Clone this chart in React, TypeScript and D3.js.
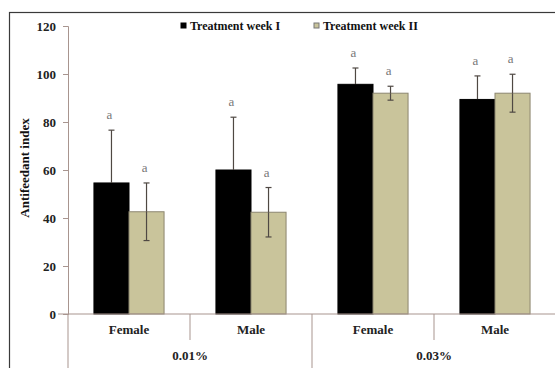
import React, { useEffect, useRef } from 'react';
import * as d3 from 'd3';

// chart data
const concentrations = ['0.01%', '0.03%'];
const sexes = ['Female', 'Male'];
const seriesNames = ['Treatment week I', 'Treatment week II'];
const week1 = [54.6, 60, 95.7, 89.4];
const week1Err = [22, 22, 6.8, 9.8];
const week2 = [42.6, 42.4, 92, 92];
const week2Err = [12, 10.3, 2.9, 7.9];
const week1Letters = ['a', 'a', 'a', 'a'];
const week2Letters = ['a', 'a', 'a', 'a'];
const yTicks = [0, 20, 40, 60, 80, 100, 120];

const seriesColors = ['#000000', '#c9c49b'];
const FONT = '"Liberation Serif", "Times New Roman", serif';

const App: React.FC = () => {
  const svgRef = useRef<SVGSVGElement | null>(null);

  useEffect(() => {
    if (!svgRef.current) return;
    const svg = d3.select(svgRef.current);
    svg.selectAll('*').remove();

    const W = 555;
    const H = 368;
    const left = 68;
    const right = 556;
    const top = 26;
    const bottom = 314;

    svg.append('rect').attr('width', W).attr('height', H).attr('fill', '#fff');

    // outer frame (runs off the right and bottom)
    svg
      .append('rect')
      .attr('x', 9.5)
      .attr('y', 12.5)
      .attr('width', 600)
      .attr('height', 400)
      .attr('fill', 'none')
      .attr('stroke', '#3a3a3a')
      .attr('stroke-width', 1.2);

    // categories
    const cats = concentrations.flatMap((c) => sexes.map((s) => `${c}|${s}`));
    const x0 = d3.scaleBand<string>().domain(cats).range([left, right]).padding(0);
    const xGroup = d3.scaleBand<string>().domain(concentrations).range([left, right]).padding(0);
    const x1 = d3
      .scaleBand<string>()
      .domain(seriesNames)
      .range([0, x0.bandwidth()])
      .paddingInner(0)
      .paddingOuter(0.74);
    const y = d3.scaleLinear().domain([0, 120]).range([bottom, top]);

    const axisColor = '#a8958f';

    // y axis
    const yAxis = svg.append('g').attr('transform', `translate(${left},0)`);
    yAxis.call(d3.axisLeft(y).tickValues(yTicks).tickSize(5).tickPadding(7));
    yAxis.select('.domain').attr('stroke', axisColor);
    yAxis.selectAll('.tick line').attr('stroke', axisColor);
    yAxis
      .selectAll('.tick text')
      .attr('font-family', FONT)
      .attr('font-size', 13)
      .attr('font-weight', 'bold')
      .attr('fill', '#222');

    // y title
    svg
      .append('text')
      .attr('transform', `translate(29,${(top + bottom) / 2 - 2}) rotate(-90)`)
      .attr('text-anchor', 'middle')
      .attr('font-family', FONT)
      .attr('font-size', 13)
      .attr('font-weight', 'bold')
      .attr('fill', '#111')
      .text('Antifeedant index');

    // bars
    const series = [
      { name: seriesNames[0], values: week1, errs: week1Err, letters: week1Letters },
      { name: seriesNames[1], values: week2, errs: week2Err, letters: week2Letters },
    ];

    series.forEach((s, si) => {
      const g = svg.append('g');
      cats.forEach((c, i) => {
        const bx = (x0(c) as number) + (x1(s.name) as number);
        const bw = x1.bandwidth();
        g.append('rect')
          .attr('x', bx)
          .attr('y', y(s.values[i]))
          .attr('width', bw)
          .attr('height', y(0) - y(s.values[i]))
          .attr('fill', seriesColors[si])
          .attr('stroke', si === 0 ? '#000' : '#8c8670')
          .attr('stroke-width', 1);
      });
    });

    // error bars and letters
    const errColor = '#4f4843';
    const innerErrColors = ['#000000', errColor];
    series.forEach((s, si) => {
      const g = svg.append('g');
      cats.forEach((c, i) => {
        const cx = (x0(c) as number) + (x1(s.name) as number) + x1.bandwidth() / 2;
        const mid = y(s.values[i]);
        const hi = y(s.values[i] + s.errs[i]);
        const lo = y(s.values[i] - s.errs[i]);
        g.append('line')
          .attr('x1', cx)
          .attr('x2', cx)
          .attr('y1', hi)
          .attr('y2', mid)
          .attr('stroke', errColor)
          .attr('stroke-width', 1.2);
        g.append('line')
          .attr('x1', cx)
          .attr('x2', cx)
          .attr('y1', mid)
          .attr('y2', lo)
          .attr('stroke', innerErrColors[si])
          .attr('stroke-width', 1.2);
        [
          [hi, errColor],
          [lo, innerErrColors[si]],
        ].forEach(([yy, col]) =>
          g
            .append('line')
            .attr('x1', cx - 3)
            .attr('x2', cx + 3)
            .attr('y1', yy as number)
            .attr('y2', yy as number)
            .attr('stroke', col as string)
            .attr('stroke-width', 1.2)
        );
        g.append('text')
          .attr('x', cx - 2)
          .attr('y', hi - 11)
          .attr('text-anchor', 'middle')
          .attr('font-family', FONT)
          .attr('font-size', 13)
          .attr('fill', '#777')
          .text(s.letters[i]);
      });
    });

    // x axis line
    svg
      .append('line')
      .attr('x1', 58)
      .attr('x2', right)
      .attr('y1', bottom)
      .attr('y2', bottom)
      .attr('stroke', axisColor);

    // category separators and labels
    cats.forEach((c) => {
      const xs = x0(c) as number;
      const isGroupStart = xs === xGroup(c.split('|')[0]);
      svg
        .append('line')
        .attr('x1', xs)
        .attr('x2', xs)
        .attr('y1', bottom)
        .attr('y2', isGroupStart ? H : 340)
        .attr('stroke', axisColor);
      svg
        .append('text')
        .attr('x', xs + x0.bandwidth() / 2)
        .attr('y', 334)
        .attr('text-anchor', 'middle')
        .attr('font-family', FONT)
        .attr('font-size', 13)
        .attr('font-weight', 'bold')
        .attr('fill', '#222')
        .text(c.split('|')[1]);
    });

    concentrations.forEach((c) => {
      svg
        .append('text')
        .attr('x', (xGroup(c) as number) + xGroup.bandwidth() / 2)
        .attr('y', 360)
        .attr('text-anchor', 'middle')
        .attr('font-family', FONT)
        .attr('font-size', 13)
        .attr('font-weight', 'bold')
        .attr('fill', '#222')
        .text(c);
    });

    // legend
    const legendX = [181, 314];
    seriesNames.forEach((name, i) => {
      const lg = svg.append('g').attr('transform', `translate(${legendX[i]},26)`);
      lg.append('rect')
        .attr('x', 0)
        .attr('y', -3)
        .attr('width', 5)
        .attr('height', 5)
        .attr('fill', seriesColors[i])
        .attr('stroke', i === 0 ? '#000' : '#777');
      lg.append('text')
        .attr('x', 9)
        .attr('y', 4)
        .attr('font-family', FONT)
        .attr('font-size', 12)
        .attr('font-weight', 'bold')
        .attr('fill', '#111')
        .text(name);
    });
  }, []);

  return (
    <svg
      ref={svgRef}
      width={555}
      height={368}
      style={{ position: 'absolute', left: 0, top: 0, display: 'block' }}
    />
  );
};

export default App;
